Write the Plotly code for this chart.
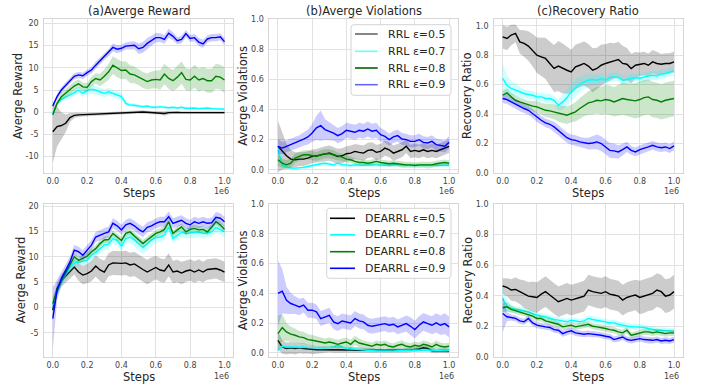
import plotly.graph_objects as go

# ---------------- data ----------------
STEPS = [0.0, 0.025, 0.05, 0.075, 0.1, 0.125, 0.15, 0.175, 0.2, 0.225,
         0.25, 0.275, 0.3, 0.325, 0.35, 0.375, 0.4, 0.425, 0.45, 0.475,
         0.5, 0.525, 0.55, 0.575, 0.6, 0.625, 0.65, 0.675, 0.7, 0.725,
         0.75, 0.775, 0.8, 0.825, 0.85, 0.875, 0.9, 0.925, 0.95, 0.975, 1.0]  # x 1e6 steps

X_TICKS = [0.0, 0.2, 0.4, 0.6, 0.8, 1.0]
REWARD_TICKS_TOP = [-10, -5, 0, 5, 10, 15, 20]
REWARD_TICKS_BOTTOM = [-5, 0, 5, 10, 15, 20]
RATIO_TICKS = [0.0, 0.2, 0.4, 0.6, 0.8, 1.0]

TITLES = ["(a)Averge Reward", "(b)Averge Violations", "(c)Recovery Ratio"]
Y_LABELS = ["Averge Reward", "Averge Violations", "Recovery Ratio"]
X_LABEL = "Steps"
RRL_LABELS = ["RRL ε=0.5", "RRL ε=0.7", "RRL ε=0.8", "RRL ε=0.9"]
DEARRL_LABELS = ["DEARRL ε=0.5", "DEARRL ε=0.7", "DEARRL ε=0.8", "DEARRL ε=0.9"]

# --- (a) RRL reward: mean and half-width of the shaded band ---
RRL_REW_05 = [-4.4, -3.25, -3.0, -2.5, -1.2, -0.7, -0.6, -0.55, -0.5, -0.45,
              -0.4, -0.35, -0.3, -0.3, -0.25, -0.2, -0.15, -0.1, 0.0, 0.05,
              0.1, 0.05, 0.0, -0.05, -0.1, -0.1, -0.3, -0.1, 0.0, -0.05,
              -0.1, -0.1, -0.05, -0.1, 0.0, -0.05, 0.0, -0.05, -0.05, -0.1, -0.1]
RRL_REW_05_BAND = [7.0, 4.5, 3.0, 2.0, 1.0, 0.6, 0.45, 0.4, 0.35, 0.3,
                   0.3, 0.3, 0.3, 0.3, 0.3, 0.3, 0.35, 0.4, 0.4, 0.4,
                   0.4, 0.4, 0.35, 0.35, 0.4, 0.4, 0.5, 0.4, 0.35, 0.3,
                   0.3, 0.3, 0.3, 0.3, 0.3, 0.3, 0.3, 0.3, 0.3, 0.3, 0.3]
RRL_REW_07 = [-0.25, 2.0, 2.9, 3.5, 3.9, 4.4, 5.0, 4.25, 4.85, 5.15,
              5.0, 4.6, 4.25, 4.6, 4.25, 3.9, 3.5, 2.0, 1.6, 1.55,
              1.4, 1.25, 1.4, 1.1, 1.1, 1.25, 1.1, 1.0, 1.1, 0.95,
              1.1, 0.9, 0.9, 0.95, 0.8, 0.9, 0.95, 0.8, 0.8, 0.7, 0.65]
RRL_REW_07_BAND = [0.4, 0.5, 0.6, 0.6, 0.7, 0.7, 0.8, 0.8, 0.9, 1.0,
                   1.0, 0.9, 0.9, 0.9, 0.9, 0.9, 0.8, 0.6, 0.4, 0.4,
                   0.35, 0.3, 0.3, 0.3, 0.3, 0.3, 0.3, 0.3, 0.3, 0.3,
                   0.3, 0.3, 0.3, 0.3, 0.3, 0.3, 0.3, 0.3, 0.3, 0.3, 0.3]
RRL_REW_08 = [-0.6, 2.0, 3.5, 4.25, 5.1, 5.9, 6.4, 5.7, 5.6, 6.9,
              7.6, 7.25, 8.1, 9.1, 10.6, 9.9, 9.4, 9.5, 8.6, 8.4,
              7.9, 7.25, 6.9, 7.25, 7.4, 7.25, 8.6, 7.6, 7.1, 7.9,
              8.9, 7.4, 7.25, 8.1, 7.25, 7.6, 7.1, 7.1, 8.1, 7.9, 7.25]
RRL_REW_08_BAND = [0.5, 0.7, 0.8, 0.9, 1.0, 1.0, 1.0, 1.0, 1.0, 1.1,
                   1.2, 1.4, 1.6, 1.8, 2.0, 2.0, 2.0, 2.0, 2.0, 1.9,
                   1.8, 1.8, 1.8, 1.9, 2.0, 2.2, 2.3, 2.4, 2.4, 2.5,
                   2.5, 2.5, 2.5, 2.6, 2.6, 2.6, 2.7, 2.7, 2.8, 2.8, 2.9]
RRL_REW_09 = [1.4, 3.5, 5.0, 6.1, 7.2, 8.1, 8.4, 8.2, 8.9, 9.5,
              10.6, 11.6, 12.6, 13.4, 14.6, 14.2, 14.4, 14.9, 15.0, 15.1,
              14.3, 14.6, 15.5, 16.1, 16.8, 16.8, 16.4, 17.8, 17.1, 16.1,
              16.4, 17.7, 16.6, 16.8, 15.8, 15.4, 16.5, 16.8, 16.8, 17.0, 15.9]
RRL_REW_09_BAND = [0.5, 0.6, 0.7, 0.7, 0.7, 0.7, 0.7, 0.7, 0.7, 0.7,
                   0.8, 0.8, 0.8, 0.8, 0.9, 0.9, 0.8, 0.8, 0.9, 0.9,
                   1.2, 1.2, 1.2, 1.1, 1.1, 1.0, 1.0, 1.0, 0.9, 0.8,
                   0.8, 0.8, 0.8, 0.8, 0.9, 0.9, 0.8, 0.8, 0.8, 0.8, 0.8]

# --- (b) RRL violations ---
RRL_VIO_05 = [0.156, 0.122, 0.093, 0.071, 0.067, 0.071, 0.071, 0.078, 0.089, 0.093,
              0.1, 0.107, 0.111, 0.1, 0.089, 0.093, 0.107, 0.111, 0.122, 0.116,
              0.111, 0.129, 0.133, 0.116, 0.122, 0.144, 0.133, 0.111, 0.122, 0.133,
              0.156, 0.122, 0.129, 0.122, 0.133, 0.122, 0.129, 0.122, 0.133, 0.144, 0.156]
RRL_VIO_05_BAND = [0.17, 0.12, 0.08, 0.06, 0.05, 0.045, 0.045, 0.045, 0.045, 0.045,
                   0.05, 0.05, 0.05, 0.05, 0.05, 0.05, 0.05, 0.05, 0.05, 0.05,
                   0.05, 0.05, 0.05, 0.05, 0.05, 0.05, 0.05, 0.05, 0.05, 0.05,
                   0.045, 0.045, 0.045, 0.045, 0.045, 0.045, 0.045, 0.045, 0.045, 0.045, 0.045]
RRL_VIO_07 = [0.133, 0.033, 0.018, 0.011, 0.011, 0.011, 0.016, 0.022, 0.029, 0.033,
              0.04, 0.044, 0.04, 0.033, 0.044, 0.033, 0.033, 0.029, 0.033, 0.029,
              0.03, 0.033, 0.035, 0.033, 0.03, 0.033, 0.03, 0.033, 0.035, 0.03,
              0.03, 0.033, 0.03, 0.03, 0.033, 0.03, 0.03, 0.03, 0.033, 0.03, 0.03]
RRL_VIO_07_BAND = [0.04, 0.015, 0.01, 0.01, 0.01, 0.01, 0.01, 0.012, 0.012, 0.012,
                   0.012, 0.012, 0.012, 0.012, 0.012, 0.012, 0.012, 0.012, 0.012, 0.012,
                   0.012, 0.012, 0.012, 0.012, 0.012, 0.012, 0.012, 0.012, 0.012, 0.012,
                   0.012, 0.012, 0.012, 0.012, 0.012, 0.012, 0.012, 0.012, 0.012, 0.012, 0.012]
RRL_VIO_08 = [0.067, 0.044, 0.033, 0.044, 0.078, 0.089, 0.1, 0.1, 0.093, 0.089,
              0.1, 0.107, 0.107, 0.1, 0.089, 0.084, 0.071, 0.067, 0.056, 0.049,
              0.049, 0.044, 0.049, 0.056, 0.049, 0.044, 0.04, 0.044, 0.04, 0.033,
              0.033, 0.033, 0.029, 0.033, 0.033, 0.029, 0.033, 0.04, 0.044, 0.049, 0.044]
RRL_VIO_08_BAND = [0.04, 0.03, 0.03, 0.03, 0.03, 0.03, 0.03, 0.03, 0.03, 0.03,
                   0.03, 0.03, 0.03, 0.03, 0.025, 0.025, 0.025, 0.02, 0.02, 0.02,
                   0.02, 0.02, 0.02, 0.02, 0.02, 0.02, 0.02, 0.02, 0.02, 0.02,
                   0.02, 0.02, 0.02, 0.02, 0.02, 0.02, 0.02, 0.02, 0.02, 0.02, 0.02]
RRL_VIO_09 = [0.156, 0.144, 0.156, 0.167, 0.178, 0.19, 0.204, 0.218, 0.244, 0.278,
              0.293, 0.267, 0.256, 0.244, 0.227, 0.24, 0.262, 0.256, 0.249, 0.262,
              0.256, 0.271, 0.256, 0.262, 0.233, 0.222, 0.2, 0.218, 0.227, 0.204,
              0.2, 0.189, 0.189, 0.2, 0.182, 0.178, 0.189, 0.167, 0.16, 0.156, 0.182]
RRL_VIO_09_BAND = [0.05, 0.04, 0.04, 0.04, 0.04, 0.04, 0.045, 0.05, 0.06, 0.08,
                   0.1, 0.07, 0.06, 0.05, 0.05, 0.05, 0.05, 0.05, 0.05, 0.05,
                   0.05, 0.05, 0.05, 0.05, 0.045, 0.04, 0.04, 0.04, 0.04, 0.04,
                   0.04, 0.04, 0.04, 0.04, 0.04, 0.04, 0.04, 0.04, 0.04, 0.04, 0.04]

# --- (c) RRL recovery ratio ---
RRL_REC_05 = [0.925, 0.914, 0.937, 0.948, 0.891, 0.88, 0.862, 0.834, 0.8, 0.789,
              0.778, 0.744, 0.71, 0.726, 0.71, 0.698, 0.687, 0.721, 0.732, 0.744,
              0.726, 0.698, 0.71, 0.732, 0.744, 0.755, 0.762, 0.771, 0.744, 0.739,
              0.71, 0.732, 0.739, 0.744, 0.732, 0.755, 0.744, 0.739, 0.744, 0.744, 0.755]
RRL_REC_05_BAND = [0.08, 0.08, 0.07, 0.06, 0.08, 0.09, 0.1, 0.11, 0.12, 0.13,
                   0.14, 0.15, 0.16, 0.17, 0.17, 0.16, 0.15, 0.15, 0.15, 0.15,
                   0.15, 0.15, 0.14, 0.14, 0.13, 0.13, 0.12, 0.12, 0.12, 0.11,
                   0.1, 0.09, 0.08, 0.08, 0.08, 0.08, 0.08, 0.07, 0.07, 0.07, 0.07]
RRL_REC_07 = [0.642, 0.596, 0.574, 0.562, 0.551, 0.54, 0.533, 0.528, 0.517, 0.517,
              0.506, 0.506, 0.494, 0.46, 0.483, 0.512, 0.551, 0.58, 0.603, 0.619,
              0.63, 0.635, 0.63, 0.642, 0.63, 0.649, 0.653, 0.649, 0.63, 0.635,
              0.642, 0.649, 0.642, 0.653, 0.658, 0.664, 0.658, 0.671, 0.676, 0.687, 0.692]
RRL_REC_07_BAND = [0.1, 0.07, 0.05, 0.04, 0.035, 0.03, 0.03, 0.03, 0.03, 0.03,
                   0.03, 0.03, 0.03, 0.035, 0.05, 0.06, 0.06, 0.06, 0.05, 0.045,
                   0.04, 0.04, 0.035, 0.035, 0.03, 0.03, 0.03, 0.03, 0.03, 0.03,
                   0.03, 0.03, 0.03, 0.03, 0.03, 0.03, 0.03, 0.03, 0.03, 0.03, 0.03]
RRL_REC_08 = [0.528, 0.544, 0.517, 0.494, 0.483, 0.472, 0.46, 0.454, 0.449, 0.438,
              0.426, 0.422, 0.415, 0.404, 0.399, 0.392, 0.404, 0.415, 0.438, 0.46,
              0.476, 0.483, 0.494, 0.49, 0.499, 0.494, 0.483, 0.494, 0.506, 0.499,
              0.494, 0.49, 0.499, 0.512, 0.517, 0.499, 0.494, 0.483, 0.494, 0.499, 0.506]
RRL_REC_08_BAND = [0.03, 0.03, 0.03, 0.03, 0.03, 0.03, 0.03, 0.035, 0.04, 0.04,
                   0.045, 0.05, 0.05, 0.055, 0.06, 0.06, 0.06, 0.065, 0.07, 0.075,
                   0.08, 0.085, 0.09, 0.095, 0.1, 0.1, 0.1, 0.105, 0.11, 0.11,
                   0.115, 0.12, 0.12, 0.12, 0.12, 0.12, 0.12, 0.12, 0.12, 0.12, 0.12]
RRL_REC_09 = [0.506, 0.499, 0.483, 0.467, 0.449, 0.438, 0.426, 0.404, 0.376, 0.358,
              0.34, 0.331, 0.313, 0.29, 0.268, 0.24, 0.227, 0.222, 0.211, 0.204,
              0.2, 0.204, 0.211, 0.2, 0.177, 0.154, 0.15, 0.143, 0.159, 0.177,
              0.154, 0.143, 0.159, 0.166, 0.177, 0.188, 0.177, 0.172, 0.177, 0.166, 0.184]
RRL_REC_09_BAND = [0.03, 0.03, 0.03, 0.03, 0.03, 0.03, 0.03, 0.03, 0.03, 0.03,
                   0.03, 0.03, 0.035, 0.035, 0.035, 0.035, 0.035, 0.035, 0.035, 0.035,
                   0.04, 0.045, 0.05, 0.05, 0.05, 0.05, 0.05, 0.045, 0.04, 0.035,
                   0.03, 0.03, 0.03, 0.03, 0.03, 0.03, 0.03, 0.03, 0.03, 0.03, 0.03]

# --- DEARRL reward ---
DEA_REW_05 = [-0.5, 3.75, 5.3, 6.2, 7.0, 8.0, 7.0, 6.4, 6.7, 7.2,
              8.2, 7.4, 7.0, 8.4, 8.8, 8.7, 8.7, 8.8, 8.4, 8.6,
              8.0, 7.5, 7.0, 7.5, 7.9, 7.4, 7.2, 8.4, 7.0, 7.2,
              6.8, 7.2, 7.4, 7.0, 7.4, 7.0, 7.5, 7.6, 7.7, 7.4, 7.0]
DEA_REW_05_BAND = [1.5, 1.2, 1.2, 1.3, 1.4, 1.5, 1.7, 1.8, 1.9, 2.0,
                   2.1, 2.2, 2.2, 2.3, 2.4, 2.4, 2.4, 2.4, 2.4, 2.4,
                   2.4, 2.4, 2.4, 2.4, 2.3, 2.3, 2.3, 2.3, 2.2, 2.2,
                   2.2, 2.1, 2.1, 2.1, 2.1, 2.0, 2.0, 2.0, 2.0, 2.0, 2.0]
DEA_REW_07 = [0.5, 3.1, 5.1, 6.6, 7.9, 8.8, 9.0, 9.2, 9.3, 10.3,
              10.8, 11.6, 12.3, 12.5, 13.6, 13.2, 12.1, 13.6, 13.9, 13.3,
              12.5, 11.8, 12.5, 13.3, 13.8, 13.9, 14.3, 15.9, 13.6, 14.3,
              14.9, 14.6, 14.7, 14.7, 14.9, 14.6, 14.7, 14.9, 15.8, 15.4, 14.9]
DEA_REW_07_BAND = [1.5, 1.0, 0.9, 0.9, 0.9, 0.9, 0.9, 0.9, 0.9, 1.0,
                   1.0, 1.0, 1.0, 1.0, 1.0, 1.0, 1.1, 1.1, 1.2, 1.2,
                   1.3, 1.3, 1.2, 1.1, 1.0, 1.0, 1.0, 1.0, 1.0, 1.0,
                   1.0, 1.0, 1.0, 1.0, 1.0, 1.0, 1.0, 1.0, 1.0, 1.0, 1.0]
DEA_REW_08 = [0.8, 3.4, 5.3, 6.8, 8.4, 10.0, 9.3, 9.7, 10.1, 11.0,
              11.6, 12.6, 13.3, 13.4, 14.6, 13.9, 13.2, 14.6, 14.9, 14.1,
              13.3, 12.6, 13.3, 13.9, 14.6, 14.9, 15.4, 16.9, 14.6, 15.3,
              15.9, 14.9, 15.4, 15.6, 15.3, 15.4, 14.9, 15.8, 16.9, 16.3, 15.4]
DEA_REW_08_BAND = [1.5, 0.8, 0.7, 0.7, 0.7, 0.7, 0.7, 0.7, 0.7, 0.7,
                   0.7, 0.7, 0.7, 0.7, 0.7, 0.7, 0.7, 0.7, 0.7, 0.7,
                   0.7, 0.7, 0.7, 0.7, 0.7, 0.7, 0.7, 0.7, 0.7, 0.7,
                   0.7, 0.7, 0.7, 0.7, 0.7, 0.7, 0.7, 0.7, 0.7, 0.7, 0.7]
DEA_REW_09 = [-2.2, 3.4, 5.7, 7.4, 9.0, 11.3, 11.0, 10.3, 11.3, 12.3,
              13.9, 14.3, 14.6, 14.9, 16.6, 16.1, 15.3, 16.3, 16.6, 16.1,
              15.4, 14.9, 15.8, 16.1, 16.6, 16.9, 16.9, 17.9, 16.6, 16.9,
              17.2, 16.6, 16.3, 16.9, 16.6, 16.9, 16.6, 16.7, 17.8, 17.6, 16.9]
DEA_REW_09_BAND = [6.2, 2.0, 1.3, 1.1, 1.0, 1.0, 1.0, 1.0, 1.0, 1.0,
                   1.0, 1.0, 1.0, 1.0, 1.0, 1.0, 1.0, 1.0, 1.0, 1.0,
                   1.0, 1.0, 1.0, 1.0, 1.0, 1.0, 1.0, 1.0, 1.0, 1.0,
                   1.0, 1.0, 1.0, 1.0, 1.0, 1.0, 1.0, 1.0, 1.0, 1.0, 1.0]

# --- DEARRL violations ---
DEA_VIO_05 = [0.085, 0.04, 0.03, 0.034, 0.03, 0.034, 0.03, 0.027, 0.022, 0.022,
              0.022, 0.022, 0.025, 0.022, 0.022, 0.02, 0.022, 0.02, 0.018, 0.018,
              0.018, 0.018, 0.016, 0.016, 0.015, 0.013, 0.013, 0.013, 0.015, 0.018,
              0.018, 0.02, 0.022, 0.027, 0.035, 0.03, 0.015, 0.013, 0.015, 0.015, 0.013]
DEA_VIO_05_BAND = [0.06, 0.045, 0.04, 0.04, 0.04, 0.035, 0.035, 0.03, 0.03, 0.025,
                   0.02, 0.02, 0.02, 0.02, 0.02, 0.02, 0.02, 0.02, 0.02, 0.02,
                   0.015, 0.015, 0.015, 0.015, 0.015, 0.015, 0.015, 0.015, 0.015, 0.015,
                   0.015, 0.015, 0.015, 0.015, 0.015, 0.015, 0.015, 0.015, 0.015, 0.015, 0.015]
DEA_VIO_07 = [0.018, 0.045, 0.04, 0.042, 0.04, 0.038, 0.04, 0.036, 0.035, 0.033,
              0.03, 0.033, 0.036, 0.04, 0.05, 0.04, 0.03, 0.028, 0.025, 0.022,
              0.02, 0.018, 0.015, 0.013, 0.013, 0.015, 0.013, 0.013, 0.015, 0.018,
              0.02, 0.022, 0.02, 0.018, 0.02, 0.02, 0.018, 0.018, 0.02, 0.018, 0.018]
DEA_VIO_07_BAND = [0.012, 0.012, 0.012, 0.012, 0.012, 0.012, 0.012, 0.012, 0.012, 0.012,
                   0.012, 0.012, 0.012, 0.012, 0.012, 0.012, 0.012, 0.012, 0.012, 0.012,
                   0.012, 0.012, 0.012, 0.012, 0.012, 0.012, 0.012, 0.012, 0.012, 0.012,
                   0.012, 0.012, 0.012, 0.012, 0.012, 0.012, 0.012, 0.012, 0.012, 0.012, 0.012]
DEA_VIO_08 = [0.13, 0.17, 0.141, 0.126, 0.119, 0.108, 0.103, 0.09, 0.085, 0.081,
              0.074, 0.067, 0.074, 0.067, 0.058, 0.067, 0.074, 0.058, 0.085, 0.067,
              0.058, 0.052, 0.045, 0.058, 0.052, 0.058, 0.045, 0.04, 0.052, 0.058,
              0.045, 0.04, 0.052, 0.045, 0.058, 0.052, 0.04, 0.058, 0.045, 0.04, 0.045]
DEA_VIO_08_BAND = [0.12, 0.09, 0.06, 0.05, 0.045, 0.04, 0.04, 0.035, 0.035, 0.03,
                   0.03, 0.03, 0.03, 0.03, 0.03, 0.03, 0.03, 0.03, 0.03, 0.03,
                   0.025, 0.025, 0.025, 0.025, 0.025, 0.025, 0.025, 0.025, 0.025, 0.025,
                   0.025, 0.025, 0.025, 0.025, 0.025, 0.025, 0.025, 0.025, 0.025, 0.025, 0.025]
DEA_VIO_09 = [0.40, 0.415, 0.354, 0.332, 0.321, 0.309, 0.321, 0.287, 0.287, 0.276,
              0.231, 0.242, 0.253, 0.209, 0.197, 0.215, 0.209, 0.202, 0.231, 0.215,
              0.209, 0.186, 0.179, 0.186, 0.193, 0.197, 0.186, 0.193, 0.175, 0.186,
              0.197, 0.179, 0.157, 0.186, 0.209, 0.197, 0.186, 0.202, 0.186, 0.197, 0.175]
DEA_VIO_09_BAND = [0.22, 0.15, 0.09, 0.07, 0.06, 0.055, 0.05, 0.05, 0.05, 0.05,
                   0.05, 0.05, 0.05, 0.05, 0.05, 0.05, 0.05, 0.05, 0.05, 0.05,
                   0.05, 0.05, 0.05, 0.05, 0.05, 0.05, 0.05, 0.05, 0.05, 0.05,
                   0.055, 0.06, 0.06, 0.06, 0.06, 0.06, 0.06, 0.065, 0.065, 0.07, 0.07]

# --- DEARRL recovery ratio ---
DEA_REC_05 = [0.464, 0.455, 0.438, 0.442, 0.427, 0.411, 0.398, 0.394, 0.389, 0.411,
              0.427, 0.405, 0.383, 0.361, 0.372, 0.383, 0.372, 0.383, 0.389, 0.398,
              0.438, 0.427, 0.42, 0.416, 0.427, 0.411, 0.405, 0.398, 0.372, 0.389,
              0.398, 0.405, 0.389, 0.398, 0.411, 0.416, 0.438, 0.427, 0.398, 0.405, 0.427]
DEA_REC_05_BAND = [0.05, 0.06, 0.07, 0.08, 0.08, 0.09, 0.09, 0.1, 0.1, 0.1,
                   0.1, 0.1, 0.1, 0.1, 0.1, 0.1, 0.1, 0.1, 0.1, 0.1,
                   0.1, 0.1, 0.1, 0.1, 0.1, 0.1, 0.1, 0.1, 0.1, 0.1,
                   0.1, 0.1, 0.11, 0.11, 0.11, 0.11, 0.11, 0.11, 0.11, 0.11, 0.11]
DEA_REC_07 = [0.383, 0.333, 0.317, 0.311, 0.306, 0.302, 0.295, 0.284, 0.274, 0.267,
              0.263, 0.252, 0.245, 0.241, 0.236, 0.23, 0.241, 0.236, 0.23, 0.236,
              0.252, 0.245, 0.241, 0.236, 0.23, 0.223, 0.223, 0.214, 0.208, 0.201,
              0.197, 0.197, 0.197, 0.193, 0.186, 0.179, 0.175, 0.175, 0.175, 0.171, 0.168]
DEA_REC_07_BAND = [0.08, 0.04, 0.025, 0.02, 0.02, 0.02, 0.02, 0.02, 0.02, 0.02,
                   0.02, 0.02, 0.02, 0.02, 0.02, 0.02, 0.02, 0.02, 0.02, 0.02,
                   0.02, 0.02, 0.02, 0.02, 0.02, 0.02, 0.02, 0.02, 0.02, 0.02,
                   0.02, 0.02, 0.02, 0.02, 0.02, 0.02, 0.02, 0.02, 0.02, 0.02, 0.02]
DEA_REC_08 = [0.322, 0.328, 0.311, 0.302, 0.295, 0.289, 0.28, 0.267, 0.252, 0.252,
              0.236, 0.23, 0.223, 0.214, 0.197, 0.201, 0.208, 0.197, 0.201, 0.208,
              0.214, 0.201, 0.197, 0.193, 0.186, 0.179, 0.175, 0.164, 0.158, 0.175,
              0.142, 0.149, 0.158, 0.164, 0.164, 0.158, 0.164, 0.158, 0.153, 0.158, 0.158]
DEA_REC_08_BAND = [0.03, 0.03, 0.025, 0.02, 0.02, 0.02, 0.02, 0.02, 0.02, 0.02,
                   0.02, 0.02, 0.02, 0.02, 0.02, 0.02, 0.02, 0.02, 0.02, 0.02,
                   0.02, 0.02, 0.02, 0.02, 0.02, 0.02, 0.02, 0.02, 0.02, 0.02,
                   0.02, 0.02, 0.02, 0.02, 0.02, 0.02, 0.02, 0.02, 0.02, 0.02, 0.02]
DEA_REC_09 = [0.284, 0.263, 0.258, 0.252, 0.236, 0.23, 0.252, 0.223, 0.208, 0.201,
              0.197, 0.193, 0.179, 0.175, 0.153, 0.164, 0.171, 0.158, 0.153, 0.149,
              0.153, 0.149, 0.149, 0.142, 0.136, 0.131, 0.114, 0.12, 0.131, 0.114,
              0.109, 0.114, 0.12, 0.114, 0.109, 0.109, 0.114, 0.105, 0.109, 0.105, 0.114]
DEA_REC_09_BAND = [0.12, 0.03, 0.02, 0.02, 0.02, 0.02, 0.02, 0.02, 0.02, 0.02,
                   0.02, 0.02, 0.02, 0.02, 0.02, 0.02, 0.02, 0.02, 0.02, 0.02,
                   0.02, 0.02, 0.02, 0.02, 0.02, 0.02, 0.02, 0.02, 0.02, 0.02,
                   0.02, 0.02, 0.02, 0.02, 0.02, 0.02, 0.02, 0.02, 0.02, 0.02, 0.02]

# ---------------- styling ----------------
W, H = 702, 385
FONT = "DejaVu Sans"
COLORS = ["#000000", "#00ffff", "#008000", "#0000ff"]
BAND_COLORS = ["rgba(0,0,0,0.2)", "rgba(0,255,255,0.2)", "rgba(0,128,0,0.2)", "rgba(0,0,255,0.2)"]
LEG_COLORS_TOP = ["rgba(0,0,0,0.6)", "rgba(0,255,255,0.6)", "#006400", "rgba(0,0,255,0.6)"]

# layout in window pixels
COL_PX = [(44.2, 233.1), (269.4, 457.6), (494.1, 682.6)]
ROW_PX = [(19, 173), (204, 357)]
Y_RANGES = [[-13.7, 21.0], [-0.021, 1.0], [0.0, 1.046],
            [-9.74, 20.4], [-0.027, 1.0], [0.0, 1.0]]
Y_TICKS = [REWARD_TICKS_TOP, RATIO_TICKS, RATIO_TICKS,
           REWARD_TICKS_BOTTOM, RATIO_TICKS, RATIO_TICKS]

PANELS = [
    [(RRL_REW_05, RRL_REW_05_BAND), (RRL_REW_07, RRL_REW_07_BAND), (RRL_REW_08, RRL_REW_08_BAND), (RRL_REW_09, RRL_REW_09_BAND)],
    [(RRL_VIO_05, RRL_VIO_05_BAND), (RRL_VIO_07, RRL_VIO_07_BAND), (RRL_VIO_08, RRL_VIO_08_BAND), (RRL_VIO_09, RRL_VIO_09_BAND)],
    [(RRL_REC_05, RRL_REC_05_BAND), (RRL_REC_07, RRL_REC_07_BAND), (RRL_REC_08, RRL_REC_08_BAND), (RRL_REC_09, RRL_REC_09_BAND)],
    [(DEA_REW_05, DEA_REW_05_BAND), (DEA_REW_07, DEA_REW_07_BAND), (DEA_REW_08, DEA_REW_08_BAND), (DEA_REW_09, DEA_REW_09_BAND)],
    [(DEA_VIO_05, DEA_VIO_05_BAND), (DEA_VIO_07, DEA_VIO_07_BAND), (DEA_VIO_08, DEA_VIO_08_BAND), (DEA_VIO_09, DEA_VIO_09_BAND)],
    [(DEA_REC_05, DEA_REC_05_BAND), (DEA_REC_07, DEA_REC_07_BAND), (DEA_REC_08, DEA_REC_08_BAND), (DEA_REC_09, DEA_REC_09_BAND)],
]


def fx(p):
    return p / W


def fy(p):
    return 1 - p / H


fig = go.Figure()
layout = dict(
    width=W, height=H, margin=dict(l=0, r=0, t=0, b=0, autoexpand=False),
    paper_bgcolor="white", plot_bgcolor="white",
    font=dict(family=FONT, color="#262626"),
    showlegend=False,
)

annotations = []
shapes = []

for i, series in enumerate(PANELS):
    r, c = divmod(i, 3)
    sfx = "" if i == 0 else str(i + 1)
    xa, ya = "x" + sfx, "y" + sfx
    for k, (mean, band) in enumerate(series):
        upper = [m + b for m, b in zip(mean, band)]
        lower = [m - b for m, b in zip(mean, band)]
        fig.add_trace(go.Scatter(
            x=STEPS + STEPS[::-1], y=upper + lower[::-1], fill="toself",
            fillcolor=BAND_COLORS[k], line=dict(width=0), mode="lines",
            hoverinfo="skip", xaxis=xa, yaxis=ya))
        fig.add_trace(go.Scatter(
            x=STEPS, y=mean, mode="lines", line=dict(color=COLORS[k], width=1.4),
            xaxis=xa, yaxis=ya))

    x0, x1 = COL_PX[c]
    y0, y1 = ROW_PX[r]
    axis_common = dict(showgrid=True, gridcolor="#e2e2e2", gridwidth=1,
                       zeroline=False, showline=True, linecolor="#d6d6d6",
                       linewidth=1, mirror=True, ticks="", ticklen=0,
                       tickfont=dict(size=8, color="#444444", family=FONT))
    layout["xaxis" + sfx] = dict(
        axis_common, domain=[fx(x0), fx(x1)], anchor=ya, range=[-0.05, 1.05],
        ticklabelstandoff=0,
        tickmode="array", tickvals=X_TICKS, ticktext=[f"{v:.1f}" for v in X_TICKS])
    yt = Y_TICKS[i]
    ytext = [f"{v:.1f}" for v in yt] if isinstance(yt[0], float) else [str(v) for v in yt]
    layout["yaxis" + sfx] = dict(
        axis_common, domain=[fy(y1), fy(y0)], anchor=xa, range=Y_RANGES[i],
        ticklabelstandoff=3,
        tickmode="array", tickvals=yt, ticktext=ytext)

    # axis titles and offset text
    xc = (x0 + x1) / 2
    yc = (y0 + y1) / 2
    annotations.append(dict(text=X_LABEL, x=fx(xc), y=fy(y1 + 19.5), xref="paper", yref="paper",
                            showarrow=False, font=dict(size=11.5, color="#262626"),
                            xanchor="center", yanchor="middle"))
    annotations.append(dict(text="1e6", x=fx(x1 - 2), y=fy(y1 + 19), xref="paper", yref="paper",
                            showarrow=False, font=dict(size=8, color="#444444"),
                            xanchor="right", yanchor="middle"))
    ylab_x = [18.3, 242.7, 467.0][c] + (2.4 if (r == 1 and c == 0) else 0)
    annotations.append(dict(text=Y_LABELS[c], x=fx(ylab_x), y=fy(yc), xref="paper", yref="paper",
                            showarrow=False, textangle=-90, font=dict(size=11.5, color="#262626"),
                            xanchor="center", yanchor="middle"))
    if r == 0:
        annotations.append(dict(text=TITLES[c], x=fx(xc), y=fy(11), xref="paper", yref="paper",
                                showarrow=False, font=dict(size=11.5, color="#262626"),
                                xanchor="center", yanchor="middle"))


def rounded_box(x0, y0, x1, y1, rad=3):
    pts = [
        f"M {fx(x0 + rad)} {fy(y0)}", f"L {fx(x1 - rad)} {fy(y0)}",
        f"Q {fx(x1)} {fy(y0)} {fx(x1)} {fy(y0 + rad)}", f"L {fx(x1)} {fy(y1 - rad)}",
        f"Q {fx(x1)} {fy(y1)} {fx(x1 - rad)} {fy(y1)}", f"L {fx(x0 + rad)} {fy(y1)}",
        f"Q {fx(x0)} {fy(y1)} {fx(x0)} {fy(y1 - rad)}", f"L {fx(x0)} {fy(y0 + rad)}",
        f"Q {fx(x0)} {fy(y0)} {fx(x0 + rad)} {fy(y0)}", "Z"]
    return dict(type="path", path=" ".join(pts), xref="paper", yref="paper",
                fillcolor="rgba(255,255,255,0.85)", line=dict(color="#d4d4d4", width=1), layer="above")


def add_legend(box, rows, line_x, text_x, labels, colors):
    shapes.append(rounded_box(*box))
    for k, yy in enumerate(rows):
        shapes.append(dict(type="line", xref="paper", yref="paper", x0=fx(line_x[0]), x1=fx(line_x[1]),
                           y0=fy(yy), y1=fy(yy), line=dict(color=colors[k], width=1.6), layer="above"))
        annotations.append(dict(text=labels[k], x=fx(text_x), y=fy(yy), xref="paper", yref="paper",
                                showarrow=False, font=dict(size=11, color="#262626"),
                                xanchor="left", yanchor="middle"))


add_legend((351, 24.7, 451, 95.3), [34, 51.3, 68, 84.7], (355, 377.7), 385.5, RRL_LABELS, LEG_COLORS_TOP)
add_legend((326.7, 208.3, 451, 278.3), [218.3, 234.8, 251.7, 268.3], (330, 355), 362.5, DEARRL_LABELS, COLORS)

layout["annotations"] = annotations
layout["shapes"] = shapes
fig.update_layout(**layout)
fig.write_html(
    "out.html",
    config={"displayModeBar": False},
    post_script="document.body.style.margin='0';document.body.style.overflow='hidden';",
)
